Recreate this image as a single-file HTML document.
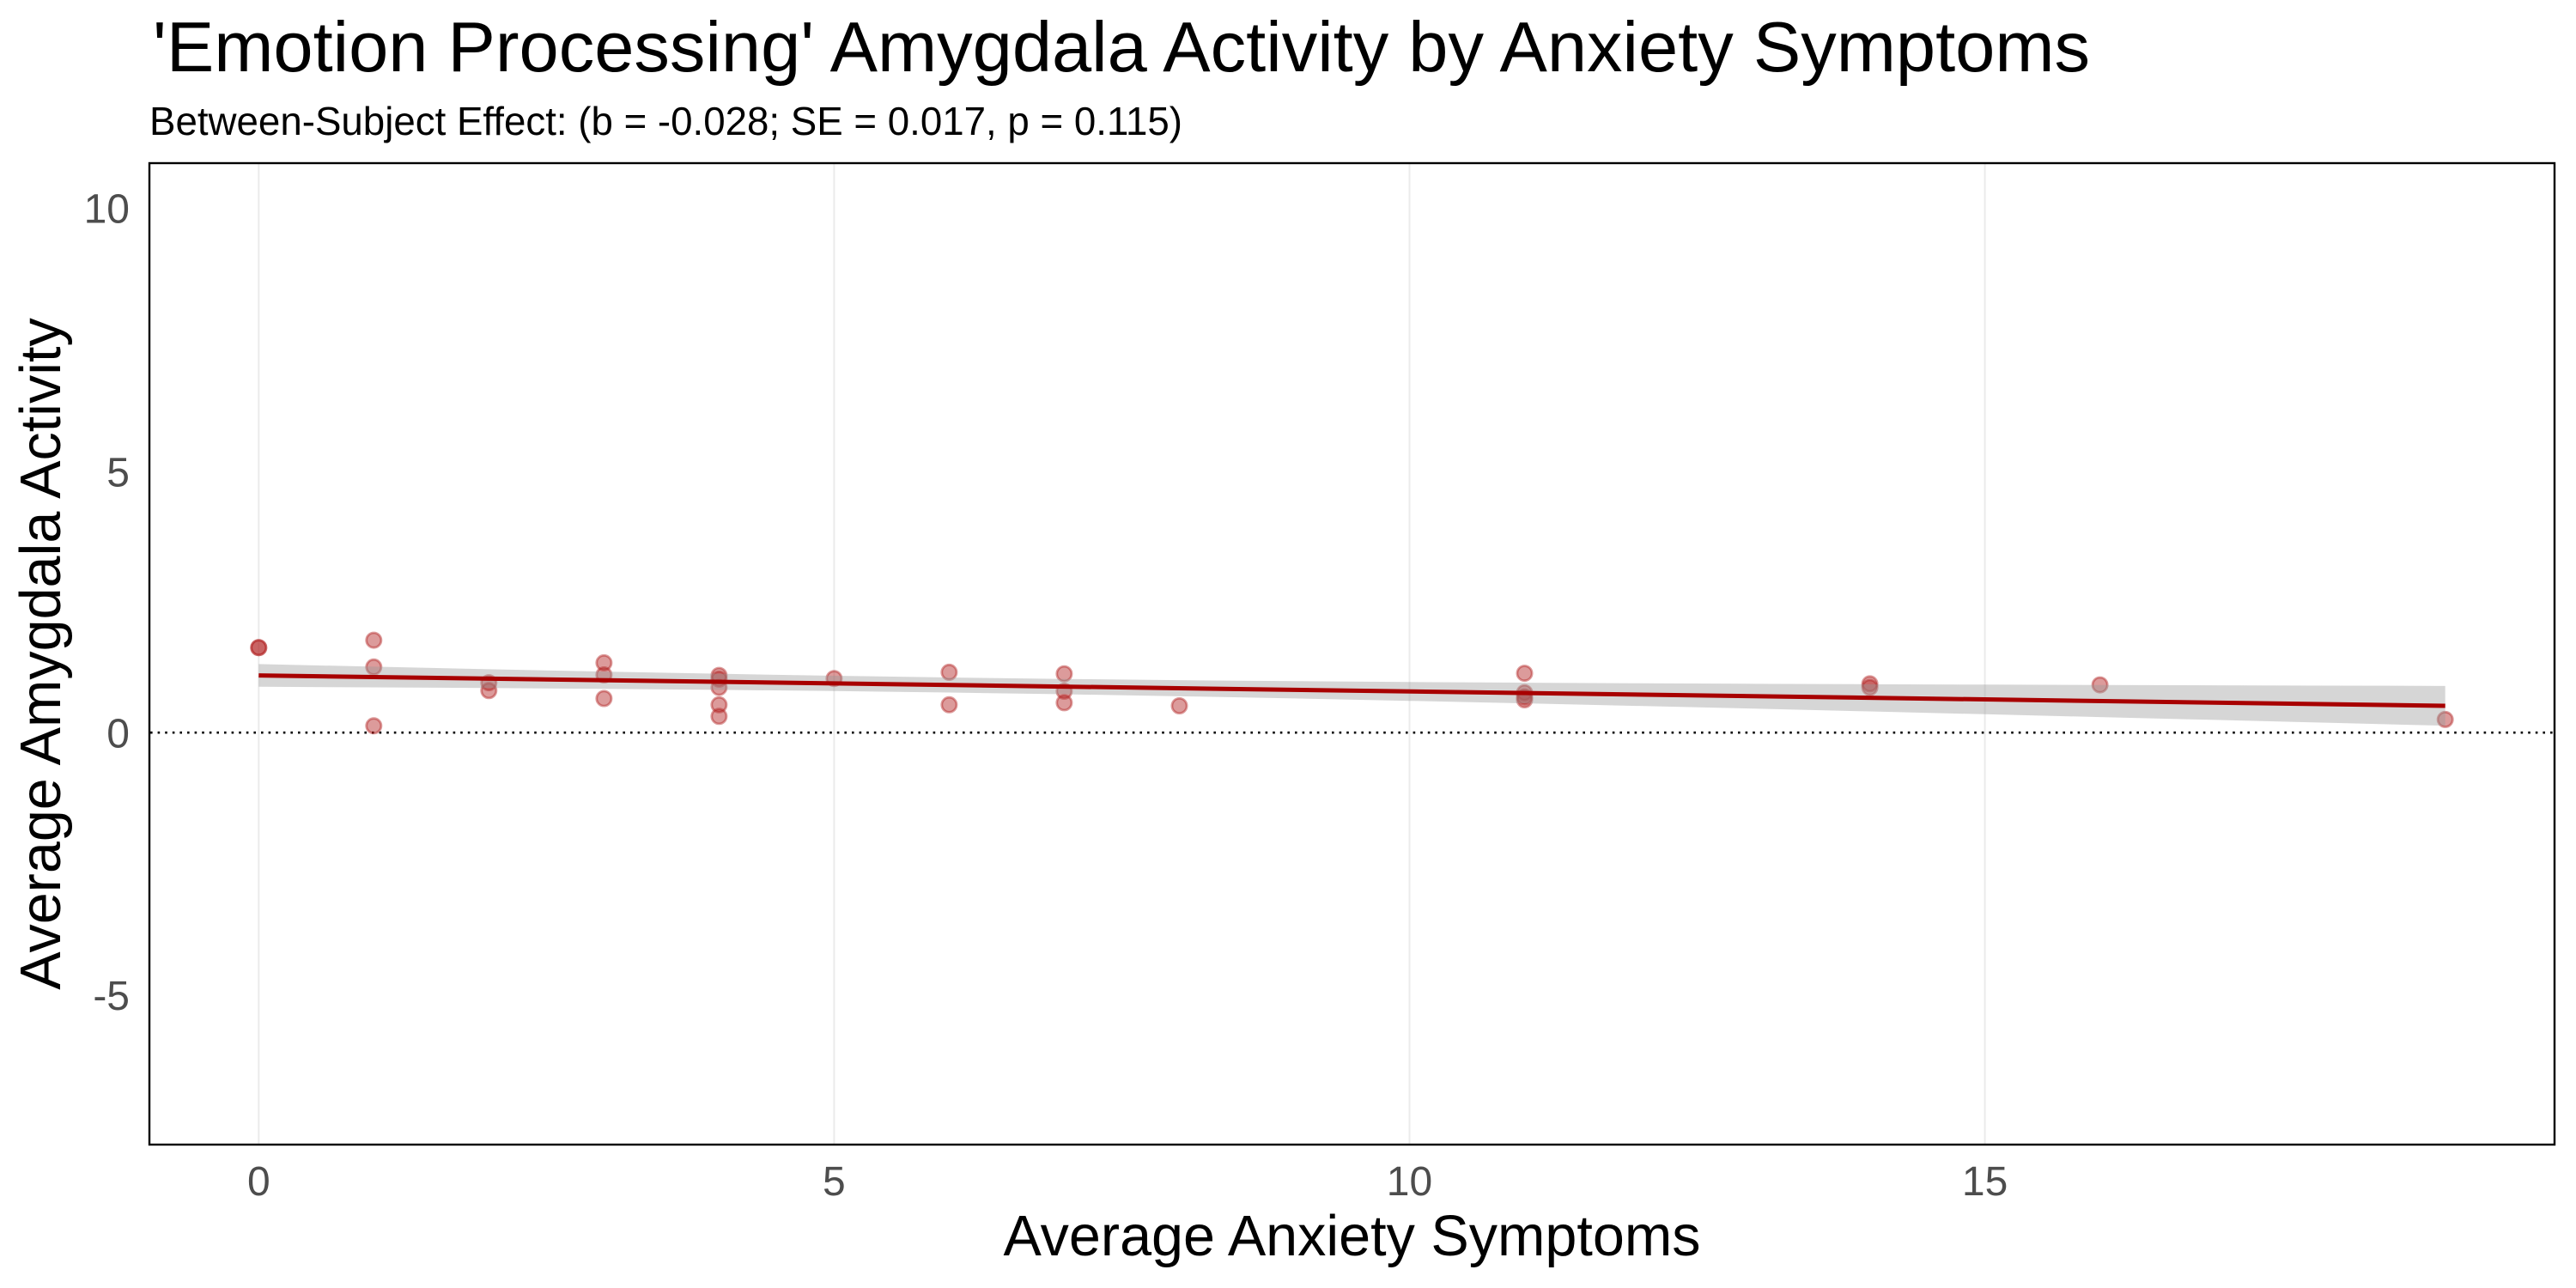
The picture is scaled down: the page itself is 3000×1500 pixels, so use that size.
<!DOCTYPE html>
<html>
<head>
<meta charset="utf-8">
<style>
html,body{margin:0;padding:0;background:#fff;}
svg{display:block;}
text{font-family:"Liberation Sans", Arial, sans-serif;}
</style>
</head>
<body>
<svg width="3000" height="1500" viewBox="0 0 3000 1500" xmlns="http://www.w3.org/2000/svg">
<rect x="0" y="0" width="3000" height="1500" fill="#ffffff"/>

<!-- Title & subtitle -->
<text x="178" y="83" font-size="83" fill="#000" textLength="2256" lengthAdjust="spacingAndGlyphs">'Emotion Processing' Amygdala Activity by Anxiety Symptoms</text>
<text x="174" y="157" font-size="46" fill="#000" textLength="1203" lengthAdjust="spacingAndGlyphs">Between-Subject Effect: (b = -0.028; SE = 0.017, p = 0.115)</text>

<!-- vertical grid lines -->
<g stroke="#EBEBEB" stroke-width="2">
<line x1="301.3" y1="190" x2="301.3" y2="1333"/>
<line x1="971.4" y1="190" x2="971.4" y2="1333"/>
<line x1="1641.5" y1="190" x2="1641.5" y2="1333"/>
<line x1="2311.6" y1="190" x2="2311.6" y2="1333"/>
</g>

<!-- dotted zero line -->
<line x1="175" y1="853.2" x2="2975" y2="853.2" stroke="#000" stroke-width="2.6" stroke-dasharray="2.6 6"/>

<!-- points -->
<g fill="rgba(178,34,34,0.45)" stroke="rgba(178,34,34,0.45)" stroke-width="2.8">
<circle cx="301.3" cy="754.2" r="8.6"/>
<circle cx="301.3" cy="754.2" r="8.6"/>
<circle cx="435.3" cy="745.6" r="8.6"/>
<circle cx="435.3" cy="776.8" r="8.6"/>
<circle cx="435.3" cy="845.3" r="8.6"/>
<circle cx="569.3" cy="795.1" r="8.6"/>
<circle cx="569.3" cy="804.3" r="8.6"/>
<circle cx="703.4" cy="771.9" r="8.6"/>
<circle cx="703.4" cy="786.0" r="8.6"/>
<circle cx="703.4" cy="813.5" r="8.6"/>
<circle cx="837.4" cy="786.6" r="8.6"/>
<circle cx="837.4" cy="790.9" r="8.6"/>
<circle cx="837.4" cy="800.6" r="8.6"/>
<circle cx="837.4" cy="820.8" r="8.6"/>
<circle cx="837.4" cy="834.3" r="8.6"/>
<circle cx="971.4" cy="790.2" r="8.6"/>
<circle cx="1105.4" cy="782.9" r="8.6"/>
<circle cx="1105.4" cy="820.8" r="8.6"/>
<circle cx="1239.4" cy="784.7" r="8.6"/>
<circle cx="1239.4" cy="804.9" r="8.6"/>
<circle cx="1239.4" cy="818.4" r="8.6"/>
<circle cx="1373.5" cy="822.0" r="8.6"/>
<circle cx="1775.5" cy="784.1" r="8.6"/>
<circle cx="1775.5" cy="806.7" r="8.6"/>
<circle cx="1775.5" cy="811.6" r="8.6"/>
<circle cx="1775.5" cy="815.0" r="8.6"/>
<circle cx="2177.6" cy="796.4" r="8.6"/>
<circle cx="2177.6" cy="800.6" r="8.6"/>
<circle cx="2445.6" cy="797.6" r="8.6"/>
<circle cx="2847.7" cy="837.9" r="8.6"/>
</g>

<!-- confidence ribbon -->
<polygon fill="rgba(153,153,153,0.4)" points="
301.3,773.36 435.3,776.41 569.3,779.34 703.4,782.12 837.4,784.68 971.4,786.99 1105.4,789.01 1239.4,790.72 1373.5,792.14 1507.5,793.30 1641.5,794.26 1775.5,795.05 1909.5,795.73 2043.6,796.32 2177.6,796.83 2311.6,797.29 2445.6,797.72 2579.6,798.11 2713.7,798.47 2847.7,798.82
2847.7,845.18 2713.7,841.80 2579.6,838.43 2445.6,835.10 2311.6,831.79 2177.6,828.53 2043.6,825.31 1909.5,822.17 1775.5,819.12 1641.5,816.19 1507.5,813.41 1373.5,810.84 1239.4,808.53 1105.4,806.52 971.4,804.81 837.4,803.39 703.4,802.23 569.3,801.27 435.3,800.48 301.3,799.80"/>

<!-- regression line -->
<line x1="301.3" y1="786.58" x2="2847.7" y2="822.0" stroke="#A80000" stroke-width="5"/>

<!-- panel border -->
<rect x="174" y="190" width="2801" height="1143" fill="none" stroke="#000" stroke-width="2.4"/>

<!-- y tick labels -->
<g font-size="48" fill="#4D4D4D" text-anchor="end">
<text x="151" y="259.5">10</text>
<text x="151" y="566.5">5</text>
<text x="151" y="870.7">0</text>
<text x="151" y="1176">-5</text>
</g>

<!-- x tick labels -->
<g font-size="48" fill="#4D4D4D" text-anchor="middle">
<text x="301.3" y="1392">0</text>
<text x="971.4" y="1392">5</text>
<text x="1641.5" y="1392">10</text>
<text x="2311.6" y="1392">15</text>
</g>

<!-- axis titles -->
<text x="1574.5" y="1462" font-size="66.5" fill="#000" text-anchor="middle">Average Anxiety Symptoms</text>
<text transform="translate(70,761.5) rotate(-90)" x="0" y="0" font-size="66.5" fill="#000" text-anchor="middle">Average Amygdala Activity</text>
</svg>
</body>
</html>
